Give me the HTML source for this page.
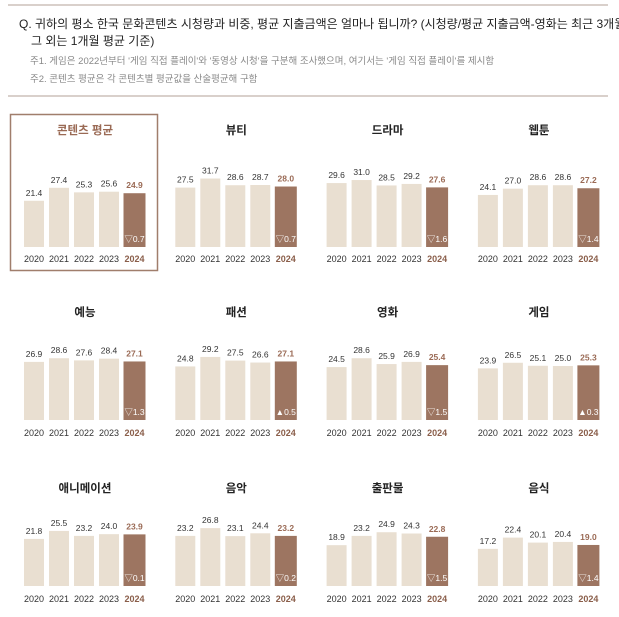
<!DOCTYPE html>
<html><head><meta charset="utf-8"><style>
body{margin:0;width:619px;height:617px;background:#fff;font-family:"Liberation Sans","Noto Sans CJK KR",sans-serif;position:relative;overflow:hidden}
.abs{position:absolute}
.hr{position:absolute;left:8px;width:600px;height:2px;background:#d9d0cb}
.q{position:absolute;left:19px;font-size:12px;color:#222;white-space:nowrap}
.n{position:absolute;left:30px;font-size:9.5px;color:#888;white-space:nowrap}
svg text{font-family:"Liberation Sans","Noto Sans CJK KR",sans-serif}
</style></head><body>
<div class="hr" style="top:4px"></div>
<div class="q" style="top:15px">Q. 귀하의 평소 한국 문화콘텐츠 시청량과 비중, 평균 지출금액은 얼마나 됩니까? (시청량/평균 지출금액-영화는 최근 3개월,</div>
<div class="q" style="top:32px;left:31px">그 외는 1개월 평균 기준)</div>
<div class="n" style="top:53px">주1. 게임은 2022년부터 '게임 직접 플레이'와 '동영상 시청'을 구분해 조사했으며, 여기서는 '게임 직접 플레이'를 제시함</div>
<div class="n" style="top:71px">주2. 콘텐츠 평균은 각 콘텐츠별 평균값을 산술평균해 구함</div>
<div class="hr" style="top:95px"></div>
<svg id="c" class="abs" style="left:0;top:0" width="619" height="617"></svg>
<script>
const titles=["콘텐츠 평균","뷰티","드라마","웹툰","예능","패션","영화","게임","애니메이션","음악","출판물","음식"];
const years=["2020","2021","2022","2023","2024"];
const values=[[21.4,27.4,25.3,25.6,24.9],[27.5,31.7,28.6,28.7,28.0],[29.6,31.0,28.5,29.2,27.6],[24.1,27.0,28.6,28.6,27.2],
[26.9,28.6,27.6,28.4,27.1],[24.8,29.2,27.5,26.6,27.1],[24.5,28.6,25.9,26.9,25.4],[23.9,26.5,25.1,25.0,25.3],
[21.8,25.5,23.2,24.0,23.9],[23.2,26.8,23.1,24.4,23.2],[18.9,23.2,24.9,24.3,22.8],[17.2,22.4,20.1,20.4,19.0]];
const deltas=["▽0.7","▽0.7","▽1.6","▽1.4","▽1.3","▲0.5","▽1.5","▲0.3","▽0.1","▽0.2","▽1.5","▽1.4"];
const rowTitle=[134,316,492],rowBase=[247,420,586],rowYear=[262,436,602];
const k=2.16;
const svg=document.getElementById('c');const NS="http://www.w3.org/2000/svg";
function mk(t,a,txt){const e=document.createElementNS(NS,t);for(const x in a)e.setAttribute(x,a[x]);if(txt!=null)e.textContent=txt;svg.appendChild(e);return e;}
const yS=(v,r)=>rowBase[r]-v*k;
titles.forEach((t,i)=>{
 const r=Math.floor(i/4),c=i%4,x0=24+c*151.3,cx=x0+61;
 if(i===0){const b=mk('rect',{x:10.5,y:114.5,width:147,height:156,fill:'none',stroke:'#a07e6c','stroke-width':1.5});}
 const tt=mk('text',{x:cx,y:rowTitle[r],'text-anchor':'middle','font-size':11.5,'font-weight':'bold',fill:i===0?'#9a6a55':'#222'},t);
 
 values[i].forEach((v,j)=>{
  const last=j===4,w=last?22:20,bx=x0+j*25-(last?0.5:0),y=yS(v,r);
  const b=mk('rect',{x:bx,y:y,width:w,height:rowBase[r]-y,fill:last?'#9d7561':'#e9dfd1'});
  
  const l=mk('text',{x:bx+w/2,y:y-5,'text-anchor':'middle','font-size':8.5,'font-weight':last?'bold':'normal',fill:last?'#9a6a55':'#333'},v.toFixed(1));
  
  const yl=mk('text',{x:bx+w/2,y:rowYear[r],'text-anchor':'middle','font-size':9,'font-weight':last?'bold':'normal',fill:last?'#8a5e4a':'#333'},years[j]);
  
  if(last){const d=mk('text',{x:bx+w/2,y:rowBase[r]-5,'text-anchor':'middle','font-size':8.5,fill:'#fff'},deltas[i]);
  }
 });
});
</script>
</body></html>
